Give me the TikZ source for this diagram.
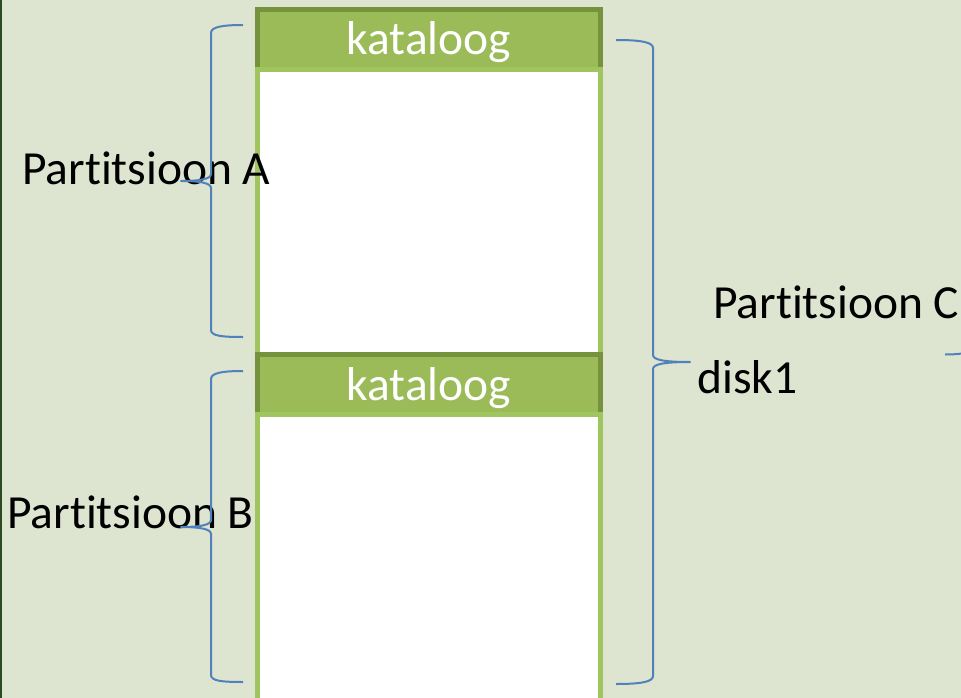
\documentclass[tikz,border=0pt]{standalone}
\usepackage{fontspec}
\setmainfont[Ligatures={NoCommon}]{Carlito}
\definecolor{bgpaper}{RGB}{221,228,207}
\definecolor{edgegreen}{RGB}{45,75,30}
\definecolor{hdrfill}{RGB}{155,187,89}
\definecolor{hdrline}{RGB}{118,146,60}
\definecolor{bodyline}{RGB}{160,196,94}
\definecolor{bracecol}{RGB}{79,129,189}
\tikzset{
  header/.style={fill=hdrfill,draw=hdrline,line width=5pt},
  body/.style={fill=white,draw=bodyline,line width=5pt},
  bracket/.style={draw=bracecol,line width=2pt,line join=round},
  lbl/.style={font=\fontsize{47.5}{56}\selectfont,text=black,inner sep=0pt,anchor=base west},
  hdrtxt/.style={font=\fontsize{47.5}{56}\selectfont,text=white,inner sep=0pt,anchor=base}
}
\begin{document}
\begin{tikzpicture}[x=1pt,y=-1pt]
  % page
  \fill[bgpaper] (0,0) rectangle (961,698);
  \useasboundingbox (0,0) rectangle (961,698);
  \fill[edgegreen] (0,0) rectangle (1.5,698);

  % first partition: directory header and data area
  \draw[header] (257.5,9.5) rectangle (600.5,69.5);
  \draw[body] (257.5,69.5) rectangle (600.5,354.5);
  % second partition
  \draw[header] (257.5,354.5) rectangle (600.5,414.5);
  \draw[body] (257.5,414.5) rectangle (600.5,705);

  \node[hdrtxt] (katA) at (429,55) {kataloog};
  \node[hdrtxt] (katB) at (429,400) {kataloog};

  % labels
  \node[lbl] (partA) at (22,184) {Partitsioon A};
  \node[lbl] (partB) at (7,528) {Partitsioon B};
  \node[lbl] (partC) at (713,318) {Partitsioon C};
  \node[lbl] (disk) at (697,393) {disk1};

  % brace for partition A
  \draw[bracket] (243,25) .. controls (222,25) and (211,27) .. (211,33)
    -- (211,174) .. controls (211,179) and (200,181) .. (181,181)
    .. controls (200,181) and (211,183) .. (211,188)
    -- (211,330) .. controls (211,336) and (222,337) .. (243,337);
  % brace for partition B
  \draw[bracket] (243,371) .. controls (222,371) and (211,373) .. (211,379)
    -- (211,520) .. controls (211,525) and (200,527) .. (181,527)
    .. controls (200,527) and (211,529) .. (211,534)
    -- (211,675) .. controls (211,681) and (222,682) .. (243,682);
  % brace for the whole disk
  \draw[bracket] (616,40) .. controls (640,40) and (653,42) .. (653,48)
    -- (653,355) .. controls (653,360) and (665,362) .. (690,362)
    .. controls (665,362) and (653,364) .. (653,369)
    -- (653,676) .. controls (653,682) and (640,684) .. (616,684);
  % brace running off the right edge
  \draw[bracket] (945,354.5) .. controls (953,354.5) and (958,354) .. (962,353.5);
\end{tikzpicture}
\end{document}
